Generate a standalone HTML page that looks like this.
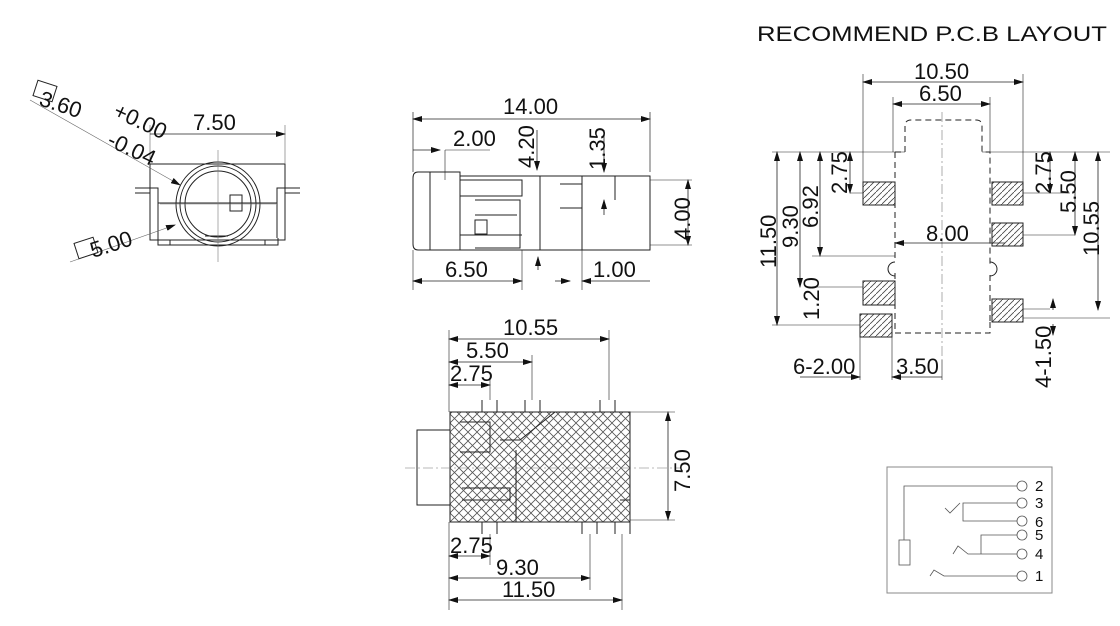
<!DOCTYPE html>
<html><head><meta charset="utf-8"><style>
html,body{margin:0;padding:0;background:#fff}
svg{display:block}
text{font-family:"Liberation Sans",Arial,sans-serif;fill:#111}
</style></head><body>
<svg width="1120" height="626" viewBox="0 0 1120 626" xmlns="http://www.w3.org/2000/svg">
<defs>
<pattern id="xh" width="9" height="9" patternUnits="userSpaceOnUse">
<path d="M0 0L9 9M9 0L0 9" stroke="#555" stroke-width="0.8"/>
</pattern>
<pattern id="dh" width="6" height="6" patternUnits="userSpaceOnUse">
<path d="M0 6L6 0" stroke="#444" stroke-width="0.8"/>
</pattern>
<marker id="a" markerWidth="10" markerHeight="6" refX="9" refY="3" orient="auto-start-reverse" markerUnits="userSpaceOnUse"><path d="M0 0L10 3L0 6Z" fill="#111"/></marker>
</defs>
<g stroke="#222" stroke-width="1" fill="none">

<!-- FRONT VIEW -->
<rect x="150" y="164" width="135" height="76"/>
<path d="M135 188H158V238M300 188H277V238M135 193H150M285 193H300"/>
<path d="M158 238V245H278V238M170 240V245M265 240V245M158 203H277"/>
<circle cx="218" cy="204" r="42"/><circle cx="218" cy="204" r="38"/><circle cx="218" cy="204" r="33"/>
<rect x="230" y="195" width="12" height="16"/>
<path d="M205 236H228" />
<path d="M218 150V262M160 204H276" stroke="#777" stroke-width="0.6"/>
<path d="M150 164V125M285 164V125" stroke="#666" stroke-width="0.6"/>
<path d="M150 134H285" marker-end="url(#a)" stroke-width="0.8"/>
<path d="M30 100L180 185" stroke="#666" stroke-width="0.6" marker-end="url(#a)"/>
<path d="M70 262L175 225" stroke="#666" stroke-width="0.6" marker-end="url(#a)"/>
<rect x="35" y="83" width="20" height="16" transform="rotate(18 45 91)"/>
<rect x="76" y="240" width="20" height="16" transform="rotate(-18 86 248)"/>

<!-- SIDE VIEW -->
<path d="M418 172H460V250H418Q413 250 413 244V178Q413 172 418 172Z"/>
<path d="M460 176H650V250H460M430 172V250M460 180H522V196H460M475 200H520V248H475M475 215H517M540 176V250M560 184H582V208H560M582 176V250M615 176V200M460 235H522"/>
<rect x="475" y="220" width="12" height="14"/>
<path d="M413 172V112M650 172V112" stroke-width="0.7"/>
<path d="M413 119H650" marker-start="url(#a)" marker-end="url(#a)" stroke-width="0.8"/>
<path d="M413 150H440" marker-end="url(#a)" stroke-width="0.8"/>
<path d="M445 150H490M445 150V180" stroke-width="0.6"/>
<path d="M537 130V170" marker-end="url(#a)" stroke-width="0.8"/>
<path d="M604 130V172" marker-end="url(#a)" stroke-width="0.8"/>
<path d="M604 215V200" marker-end="url(#a)" stroke-width="0.8"/>
<path d="M650 180H692M650 245H692" stroke-width="0.6"/>
<path d="M688 180V245" marker-start="url(#a)" marker-end="url(#a)" stroke-width="0.8"/>
<path d="M413 250V290M522 250V290M582 250V290" stroke-width="0.6"/>
<path d="M413 281H522" marker-start="url(#a)" marker-end="url(#a)" stroke-width="0.8"/>
<path d="M538 270V257" marker-end="url(#a)" stroke-width="0.8"/>
<path d="M582 281H650" marker-start="url(#a)" stroke-width="0.8"/>
<path d="M555 281H570" marker-end="url(#a)" stroke-width="0.8"/>

<!-- BOTTOM VIEW -->
<rect x="450" y="412" width="180" height="110" fill="url(#xh)"/>
<path d="M450 412H630V522H450Z M417 430H450V505H417Z"/>
<path d="M405 468H680" stroke="#777" stroke-width="0.6" stroke-dasharray="10 3 2 3"/>
<path d="M482 400V412M497 400V412M525 400V412M540 400V412M600 400V412M615 400V412M482 522V534M497 522V534M582 522V534M597 522V534M615 522V534M630 522V534"/>
<path d="M516 450V522M555 412L520 440H500M462 488H510V500H462M460 422H490V452H460M620 500H630"/>
<path d="M449 412V330M609 400V330M532 400V355M490 400V378" stroke-width="0.6"/>
<path d="M449 339H609" marker-start="url(#a)" marker-end="url(#a)" stroke-width="0.8"/>
<path d="M449 362H532" marker-start="url(#a)" marker-end="url(#a)" stroke-width="0.8"/>
<path d="M449 385H490" marker-start="url(#a)" marker-end="url(#a)" stroke-width="0.8"/>
<path d="M630 412H675M630 520H675" stroke-width="0.6"/>
<path d="M668 412V520" marker-start="url(#a)" marker-end="url(#a)" stroke-width="0.8"/>
<path d="M449 522V610M490 534V565M590 534V590M622 534V610" stroke-width="0.6"/>
<path d="M449 556H490" marker-start="url(#a)" marker-end="url(#a)" stroke-width="0.8"/>
<path d="M449 578H590" marker-start="url(#a)" marker-end="url(#a)" stroke-width="0.8"/>
<path d="M449 600H622" marker-start="url(#a)" marker-end="url(#a)" stroke-width="0.8"/>

<!-- PCB LAYOUT -->
<g stroke-dasharray="6 4">
<path d="M895 152H905V126Q905 120 911 120H976Q982 120 982 126V152H990V265M990 275V322M895 152V260M895 273V333H990V322"/>
</g>
<path d="M942 112V360" stroke="#777" stroke-width="0.6" stroke-dasharray="10 3 2 3"/>
<path d="M895 262A7 7 0 0 0 895 276M990 262A7 7 0 0 1 990 276"/>
<rect x="863" y="182" width="32" height="23" fill="url(#dh)"/>
<rect x="863" y="281" width="32" height="24" fill="url(#dh)"/>
<rect x="860" y="314" width="32" height="23" fill="url(#dh)"/>
<rect x="992" y="182" width="31" height="23" fill="url(#dh)"/>
<rect x="992" y="223" width="31" height="23" fill="url(#dh)"/>
<rect x="992" y="299" width="31" height="23" fill="url(#dh)"/>
<path d="M863 182V74M1023 182V74M893 152V97M990 152V97" stroke-width="0.6"/>
<path d="M863 82H1023" marker-start="url(#a)" marker-end="url(#a)" stroke-width="0.8"/>
<path d="M893 104H990" marker-start="url(#a)" marker-end="url(#a)" stroke-width="0.8"/>
<path d="M772 152H905M982 152H1110M772 325H860M850 193H863M1023 193H1070M812 256H895M815 287H863M1023 235H1075M1023 309H1050M1023 318H1110" stroke-width="0.6"/>
<path d="M777 152V325" marker-start="url(#a)" marker-end="url(#a)" stroke-width="0.8"/>
<path d="M800 152V287" marker-start="url(#a)" marker-end="url(#a)" stroke-width="0.8"/>
<path d="M820 152V256" marker-start="url(#a)" marker-end="url(#a)" stroke-width="0.8"/>
<path d="M850 152V193" marker-start="url(#a)" marker-end="url(#a)" stroke-width="0.8"/>
<path d="M1050 152V193" marker-start="url(#a)" marker-end="url(#a)" stroke-width="0.8"/>
<path d="M1075 152V235" marker-start="url(#a)" marker-end="url(#a)" stroke-width="0.8"/>
<path d="M1098 152V310" marker-start="url(#a)" marker-end="url(#a)" stroke-width="0.8"/>
<path d="M895 243H1005" marker-start="url(#a)" stroke-width="0.8"/>
<path d="M860 337V380M892 337V380M942 360V380" stroke-width="0.6"/>
<path d="M800 377H860" marker-end="url(#a)" stroke-width="0.8"/>
<path d="M892 377H942" marker-start="url(#a)" stroke-width="0.8"/>
<path d="M1053 310V299" marker-end="url(#a)" stroke-width="0.8"/>
<path d="M1053 335V324" marker-start="url(#a)" stroke-width="0.8"/>

<!-- SCHEMATIC -->
<rect x="887" y="467" width="165" height="126" stroke="#888"/>
<g stroke="#555" stroke-width="0.8">
<circle cx="1022" cy="486" r="5"/><circle cx="1022" cy="503" r="5"/><circle cx="1022" cy="521" r="5"/>
<circle cx="1022" cy="535" r="5"/><circle cx="1022" cy="554" r="5"/><circle cx="1022" cy="576" r="5"/>
<path d="M1017 486H904V540M1017 503H963V521H1017M1017 535H981V554H1017M1017 554H968L958 546L953 554M1017 576H944L934 570L930 576M960 503L950 513L945 508M963 503V515M981 545V553"/>
<rect x="899" y="540" width="11" height="25"/>
</g>
</g>

<g font-size="22">
<text x="193" y="130">7.50</text>
<text x="38" y="105" transform="rotate(18 38 105)">3.60</text>
<text x="112" y="116" transform="rotate(25 112 116)">+0.00</text>
<text x="106" y="145" transform="rotate(25 106 145)">-0.04</text>
<text x="93" y="258" transform="rotate(-18 93 258)">5.00</text>

<text x="503" y="114">14.00</text>
<text x="453" y="146">2.00</text>
<text x="534" y="168" transform="rotate(-90 534 168)">4.20</text>
<text x="605" y="170" transform="rotate(-90 605 170)">1.35</text>
<text x="690" y="240" transform="rotate(-90 690 240)">4.00</text>
<text x="445" y="277">6.50</text>
<text x="593" y="277">1.00</text>

<text x="503" y="335">10.55</text>
<text x="466" y="358">5.50</text>
<text x="450" y="381">2.75</text>
<text x="690" y="492" transform="rotate(-90 690 492)">7.50</text>
<text x="450" y="553">2.75</text>
<text x="496" y="575">9.30</text>
<text x="502" y="597">11.50</text>

<text x="757" y="41" font-size="21" textLength="350" lengthAdjust="spacingAndGlyphs">RECOMMEND P.C.B LAYOUT</text>
<text x="914" y="79">10.50</text>
<text x="919" y="101">6.50</text>
<text x="926" y="241">8.00</text>
<text x="776" y="268" transform="rotate(-90 776 268)">11.50</text>
<text x="798" y="248" transform="rotate(-90 798 248)">9.30</text>
<text x="818" y="228" transform="rotate(-90 818 228)">6.92</text>
<text x="847" y="194" transform="rotate(-90 847 194)">2.75</text>
<text x="819" y="320" transform="rotate(-90 819 320)">1.20</text>
<text x="1051" y="194" transform="rotate(-90 1051 194)">2.75</text>
<text x="1076" y="213" transform="rotate(-90 1076 213)">5.50</text>
<text x="1099" y="256" transform="rotate(-90 1099 256)">10.55</text>
<text x="1051" y="388" transform="rotate(-90 1051 388)">4-1.50</text>
<text x="793" y="374">6-2.00</text>
<text x="896" y="374">3.50</text>
</g>
<g font-size="15">
<text x="1035" y="491">2</text><text x="1035" y="508">3</text><text x="1035" y="527">6</text>
<text x="1035" y="540">5</text><text x="1035" y="559">4</text><text x="1035" y="581">1</text>
</g>
</svg>
</body></html>
